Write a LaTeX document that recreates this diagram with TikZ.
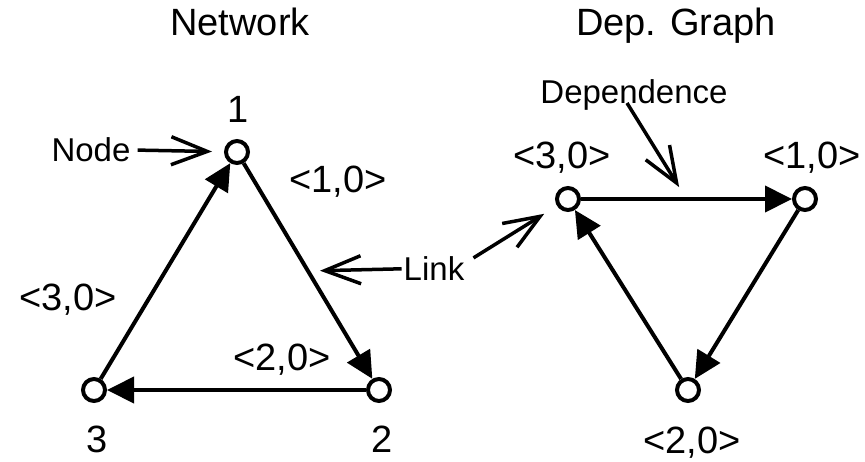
\documentclass[tikz,border=0pt]{standalone}
\usepackage{fontspec}
\setmainfont{Liberation Sans}
\usetikzlibrary{arrows.meta,calc}

\begin{document}
\begin{tikzpicture}[x=1pt,y=-1pt,
  vertex/.style={circle, draw, fill=white, line width=4pt, minimum size=22pt, inner sep=0pt},
  conn/.style={line width=4pt, -{Triangle[length=27pt,width=26pt]}},
  pointer/.style={line width=3.5pt, -{Straight Barb[length=36pt,width=28pt]}},
  bigtxt/.style={inner sep=0pt, anchor=base, font=\fontsize{38}{44}\selectfont},
  smalltxt/.style={inner sep=0pt, anchor=base, font=\fontsize{33}{38}\selectfont}]
\useasboundingbox (0,0) rectangle (865,461);
% titles
\node[bigtxt] (ttlnet) at (240,35) {Network};
\node[bigtxt] (ttldep) at (676,35) {Dep. Graph};
% network
\node[vertex] (n1) at (237,152) {};
\node[vertex] (n2) at (379,390) {};
\node[vertex] (n3) at (94,390) {};
\node[bigtxt] (lbl1) at (238,122) {1};
\node[bigtxt] (lbl2) at (382,452) {2};
\node[bigtxt] (lbl3) at (97,452) {3};
\draw[conn] (n1) -- (n2);
\draw[conn] (n2) -- (n3);
\draw[conn] (n3) -- (n1);
\node[bigtxt] (e12) at (338,192) {<1,0>};
\node[bigtxt] (e23) at (282,370) {<2,0>};
\node[bigtxt] (e31) at (68,310) {<3,0>};
% dependence graph
\node[vertex] (d3) at (568,199) {};
\node[vertex] (d1) at (805,199) {};
\node[vertex] (d2) at (688,390) {};
\node[bigtxt] (l30) at (562,168) {<3,0>};
\node[bigtxt] (l10) at (812,168) {<1,0>};
\node[bigtxt] (l20) at (692,453) {<2,0>};
\draw[conn] (d3) -- (d1);
\draw[conn] (d1) -- (d2);
\draw[conn] (d2) -- (d3);
% callouts
\node[smalltxt] (nd) at (91,161) {Node};
\node[smalltxt] (lnk) at (434,280) {Link};
\node[smalltxt] (dep) at (634,103) {Dependence};
\coordinate (linkpt) at ($(n1)!0.5!(n2)$);
\coordinate (depmid) at ($(d3)!0.5!(d1)$);
\draw[pointer, shorten <=7pt, shorten >=12pt] (nd) -- (n1);
\draw[pointer, shorten <=2pt, shorten >=12pt] (lnk) -- (linkpt);
\draw[pointer, shorten >=15pt] ([shift={(9pt,-2pt)}]lnk.north east) -- (d3);
\draw[pointer, shorten >=14pt] ([xshift=-7pt]dep.base) -- (depmid);
\end{tikzpicture}
\end{document}
